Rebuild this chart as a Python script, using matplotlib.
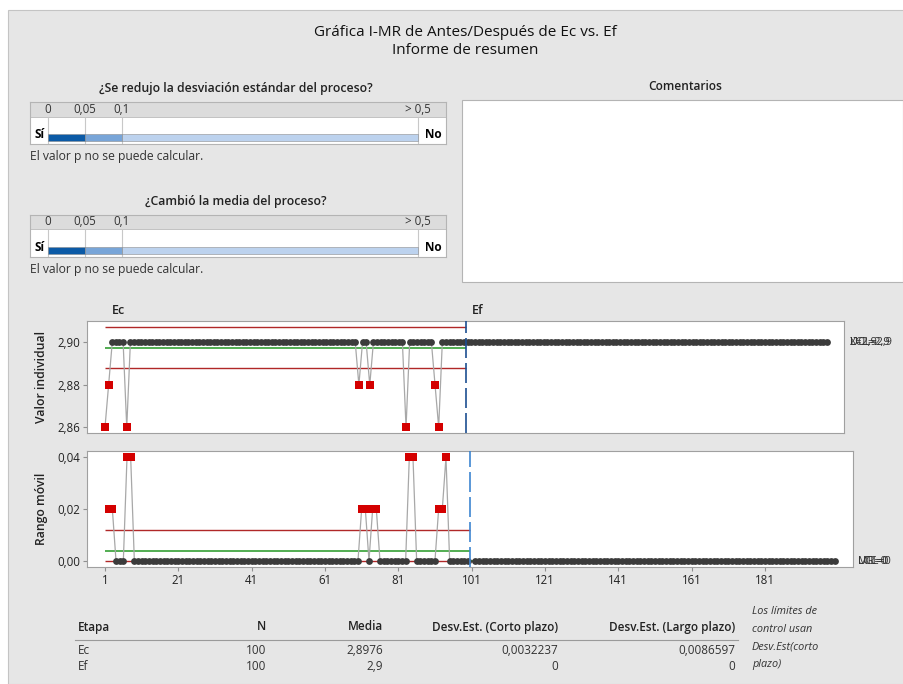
import numpy as np
import matplotlib.pyplot as plt
from matplotlib.patches import Rectangle
from matplotlib.ticker import FuncFormatter

plt.rcParams['font.family'] = ['Open Sans', 'DejaVu Sans']

W, H = 904, 684

# Etapa Ec: 100 mediciones
ec = [2.86, 2.88, 2.90, 2.90, 2.90, 2.90, 2.86, 2.90, 2.90, 2.90,
      2.90, 2.90, 2.90, 2.90, 2.90, 2.90, 2.90, 2.90, 2.90, 2.90,
      2.90, 2.90, 2.90, 2.90, 2.90, 2.90, 2.90, 2.90, 2.90, 2.90,
      2.90, 2.90, 2.90, 2.90, 2.90, 2.90, 2.90, 2.90, 2.90, 2.90,
      2.90, 2.90, 2.90, 2.90, 2.90, 2.90, 2.90, 2.90, 2.90, 2.90,
      2.90, 2.90, 2.90, 2.90, 2.90, 2.90, 2.90, 2.90, 2.90, 2.90,
      2.90, 2.90, 2.90, 2.90, 2.90, 2.90, 2.90, 2.90, 2.90, 2.90,
      2.88, 2.90, 2.90, 2.88, 2.90, 2.90, 2.90, 2.90, 2.90, 2.90,
      2.90, 2.90, 2.90, 2.86, 2.90, 2.90, 2.90, 2.90, 2.90, 2.90,
      2.90, 2.88, 2.86, 2.90, 2.90, 2.90, 2.90, 2.90, 2.90, 2.90]
# Etapa Ef: 100 mediciones, todas en 2,90
ef = [2.90] * 100

stages = ['Ec', 'Ef']
stage_n = [100, 100]
stage_mean = [2.8976, 2.9]
stage_sd_short = [0.0032237, 0.0]
stage_sd_long = [0.0086597, 0.0]

p_cuts = [0, 0.05, 0.1, 0.5]
p_labels = ['0', '0,05', '0,1', '> 0,5']
p_colors = ['#0b5aa6', '#78a5d8', '#bcd2ee']

mr_ticks = [1, 21, 41, 61, 81, 101, 121, 141, 161, 181]
i_ticks = [2.86, 2.88, 2.90]
mr_yticks = [0.00, 0.02, 0.04]

GRID = '#a8a8a8'
DOT = '#3b3b3b'
RED = '#d40000'
LIM = '#b02828'
GREEN = '#35a035'


def coma(v, dec=None):
    s = ('{:.%df}' % dec).format(v) if dec is not None else '{:g}'.format(v)
    return s.replace('.', ',')


fig = plt.figure(figsize=(W / 100, H / 100), dpi=100, facecolor='white')


def px_axes(x0, y0, x1, y1, **kw):
    return fig.add_axes([x0 / W, 1 - y1 / H, (x1 - x0) / W, (y1 - y0) / H], **kw)


bg = px_axes(0, 0, W, H, zorder=-1)
bg.set_xlim(0, W)
bg.set_ylim(H, 0)
bg.axis('off')
bg.add_patch(Rectangle((8, 10), W - 8, H - 10, fc='#e6e6e6', ec='#c4c4c4', lw=0.8))

bg.text(465, 32, 'Gráfica I-MR de Antes/Después de Ec vs. Ef', fontsize=11,
        ha='center', va='center', color='#111')
bg.text(465, 51, 'Informe de resumen', fontsize=11, ha='center', va='center', color='#111')

# preguntas con barra de valor p
questions = ['¿Se redujo la desviación estándar del proceso?', '¿Cambió la media del proceso?']
q_tops = [101.7, 214.5]
for q, top in zip(questions, q_tops):
    bg.text(236, top - 13, q, fontsize=8.8, weight='semibold', ha='center', va='center', color='#222')
    bg.text(30, top + 55, 'El valor p no se puede calcular.', fontsize=8.7, ha='left',
            va='center', color='#333')
    ax = px_axes(30, top, 446.5, top + 42.6)
    ax.set_xlim((30 - 48) / 740, (446.5 - 48) / 740)
    ax.set_ylim(0, 1)
    ax.axhspan(0.648, 1, color='#dcdcdc', lw=0)
    ax.axhline(0.648, color='#b8b8b8', lw=0.6)
    ax.vlines(p_cuts, 0, 0.648, color='#c8c8c8', lw=0.8)
    for k in range(3):
        ax.barh(0.156, p_cuts[k + 1] - p_cuts[k], left=p_cuts[k], height=0.157,
                color=p_colors[k], edgecolor='#8c8c8c', lw=0.4, zorder=3)
    for c, lab in zip(p_cuts, p_labels):
        ax.text(c, 0.824, lab, fontsize=8.3, ha='center', va='center', color='#333')
    ax.text(-0.0176, 0.22, 'Sí', fontsize=8.5, weight='bold', ha='left', va='center')
    ax.text(0.5324, 0.22, 'No', fontsize=8.5, weight='bold', ha='right', va='center')
    ax.set_xticks([])
    ax.set_yticks([])
    for s in ax.spines.values():
        s.set_color('#b4b4b4')
        s.set_linewidth(0.8)

bg.text(685, 86, 'Comentarios', fontsize=8.6, weight='semibold', ha='center', va='center', color='#222')
bg.add_patch(Rectangle((462, 100), 441, 182, fc='white', ec='#b4b4b4', lw=0.8))

# datos por etapa y limites de control
data = [np.array(ec), np.array(ef)]
xs = [np.arange(1, 101), np.arange(101, 201)]
bounds = [(1, 100.5), (100.5, 200)]

ax_i = px_axes(87, 320.7, 844, 433.3)
ax_m = px_axes(87.3, 451, 853.3, 566.7)

for k in range(2):
    x, v = xs[k], data[k]
    m, s = stage_mean[k], stage_sd_short[k]
    ucl, lcl = m + 3 * s, m - 3 * s
    x0, x1 = bounds[k]
    ax_i.hlines([ucl, lcl], x0, x1, color=LIM, lw=1, zorder=1)
    ax_i.hlines(m, x0, x1, color=GREEN, lw=1.2, zorder=1)
    ax_i.plot(x, v, color=GRID, lw=0.9, zorder=2)
    bad = (v > ucl + 1e-12) | (v < lcl - 1e-12)
    ax_i.plot(x[~bad], v[~bad], 'o', ms=4.9, color=DOT, mew=0, zorder=3)
    ax_i.plot(x[bad], v[bad], 's', ms=5.8, color=RED, mew=0, zorder=4)

    mr = np.abs(np.diff(v))
    xm = x[1:]
    mrbar = 1.128 * s
    mucl = 3.267 * mrbar
    ax_m.hlines([mucl, 0], x0, x1, color=LIM, lw=1, zorder=1)
    ax_m.hlines(mrbar, x0, x1, color=GREEN, lw=1.2, zorder=1)
    ax_m.plot(xm, mr, color=GRID, lw=0.9, zorder=2)
    bad = mr > mucl + 1e-12
    ax_m.plot(xm[~bad], mr[~bad], 'o', ms=4.9, color=DOT, mew=0, zorder=3)
    ax_m.plot(xm[bad], mr[bad], 's', ms=5.8, color=RED, mew=0, zorder=4)

ax_i.axvline(100.5, color='#1d4f91', lw=1.2, dashes=(12, 3), zorder=5)
ax_m.axvline(100.5, color='#3d85d1', lw=1.2, dashes=(12, 3), zorder=5)

ax_i.set_xlim(-3.96, 204.75)
ax_i.set_ylim(2.85717, 2.91028)
ax_m.set_xlim(-3.83, 205.1)
ax_m.set_ylim(-0.00232, 0.04244)

ax_i.set_xticks([])
ax_i.set_yticks(i_ticks)
ax_i.yaxis.set_major_formatter(FuncFormatter(lambda v, p: coma(v, 2)))
ax_m.set_xticks(mr_ticks)
ax_m.set_yticks(mr_yticks)
ax_m.yaxis.set_major_formatter(FuncFormatter(lambda v, p: coma(v, 2)))

for ax in (ax_i, ax_m):
    ax.tick_params(length=3, width=0.8, color='#909090', labelsize=8.3, labelcolor='#222', pad=2)
    for s in ax.spines.values():
        s.set_color('#a0a0a0')
        s.set_linewidth(0.8)

bg.text(42, 377, 'Valor individual', rotation=90, fontsize=8.8, weight='semibold',
        ha='center', va='center', color='#222')
bg.text(42, 509, 'Rango móvil', rotation=90, fontsize=8.8, weight='semibold',
        ha='center', va='center', color='#222')
bg.text(112, 310, stages[0], fontsize=9, weight='semibold', ha='left', va='center', color='#222')
bg.text(472, 310, stages[1], fontsize=9, weight='semibold', ha='left', va='center', color='#222')

# etiquetas de limites de la etapa Ef (se superponen)
lim_ef = coma(stage_mean[1])
for t in ['UCL=' + lim_ef, 'X\u0304=' + lim_ef, 'LCL=' + lim_ef]:
    bg.text(850, 342, t, fontsize=7.8, ha='left', va='center', color='#333')
for t in ['UCL=0', 'M\u0304R\u0304=0', 'LCL=0']:
    bg.text(858, 561, t, fontsize=7.8, ha='left', va='center', color='#333')

# tabla de resumen
cols_x = [266, 383, 558, 735]
heads = ['N', 'Media', 'Desv.Est. (Corto plazo)', 'Desv.Est. (Largo plazo)']
bg.text(78, 627, 'Etapa', fontsize=8.5, weight='semibold', ha='left', va='center', color='#222')
for cx, h in zip(cols_x, heads):
    bg.text(cx, 627, h, fontsize=8.5, weight='semibold', ha='right', va='center', color='#222')
bg.plot([75, 738], [640, 640], color='#9a9a9a', lw=0.8)
for k, ry in enumerate([651, 667]):
    row = [str(stage_n[k]), coma(stage_mean[k]), coma(stage_sd_short[k]), coma(stage_sd_long[k])]
    bg.text(78, ry, stages[k], fontsize=8.5, ha='left', va='center', color='#333')
    for cx, val in zip(cols_x, row):
        bg.text(cx, ry, val, fontsize=8.5, ha='right', va='center', color='#333')

for ty, t in zip([611, 629, 647, 664], ['Los límites de', 'control usan', 'Desv.Est(corto', 'plazo)']):
    bg.text(752, ty, t, fontsize=7.8, style='italic', ha='left', va='center', color='#333')

fig.savefig('out.png', dpi=100, facecolor='white')
